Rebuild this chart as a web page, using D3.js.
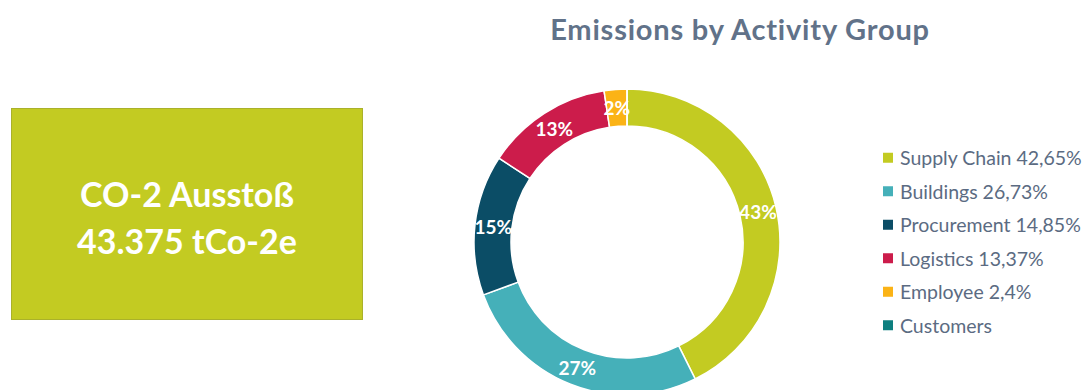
<!DOCTYPE html>
<html>
<head>
<meta charset="utf-8">
<script src="https://cdn.jsdelivr.net/npm/d3@7"></script>
<style>
	body { margin: 0; background: #ffffff; }
	svg { display: block; font-family: Lato, "Open Sans", sans-serif; }
</style>
</head>
<body>
<div id="viz"></div>
<script>
// data
var categories = ["Supply Chain", "Buildings", "Procurement", "Logistics", "Employee", "Customers"];
var shares = [42.65, 26.73, 14.85, 13.37, 2.4, 0];
var legendLabels = ["Supply Chain 42,65%", "Buildings 26,73%", "Procurement 14,85%", "Logistics 13,37%", "Employee 2,4%", "Customers"];
var colors = ["#c3cb22", "#45b0b9", "#0b4d66", "#cc1c4b", "#fbb316", "#0d7f7f"];
var boxLines = ["CO-2 Ausstoß", "43.375 tCo-2e"];
var title = "Emissions by Activity Group";

var WIDTH = 1089;
var HEIGHT = 390;
var CX = 627;
var CY = 242;
var OUTER_R = 153;
var INNER_R = 116;

var svg = d3.select("#viz").append("svg")
	.attr("width", WIDTH)
	.attr("height", HEIGHT);

// left box
var box = svg.append("g");
box.append("rect")
	.attr("x", 11.5)
	.attr("y", 108.5)
	.attr("width", 351)
	.attr("height", 211)
	.attr("fill", "#c3cb22")
	.attr("stroke", "#aab12a")
	.attr("stroke-width", 1);

box.selectAll("text")
	.data(boxLines)
	.enter().append("text")
	.attr("x", 187)
	.attr("y", function(d, i) { return 193 + i * 47; })
	.attr("text-anchor", "middle")
	.attr("dominant-baseline", "central")
	.attr("font-size", 34)
	.attr("font-weight", "bold")
	.attr("fill", "#ffffff")
	.text(function(d) { return d; });

// title
svg.append("text")
	.attr("x", 740)
	.attr("y", 40)
	.attr("text-anchor", "middle")
	.attr("font-size", 29)
	.attr("letter-spacing", 0.8)
	.attr("font-weight", "bold")
	.attr("fill", "#617289")
	.text(title);

// donut
var pie = d3.pie().sort(null).value(function(d) { return d; });
var arc = d3.arc().innerRadius(INNER_R).outerRadius(OUTER_R);
var arcs = pie(shares);

var g = svg.append("g").attr("transform", "translate(" + CX + "," + CY + ")");

g.selectAll("path")
	.data(arcs)
	.enter().append("path")
	.attr("d", arc)
	.attr("fill", function(d, i) { return colors[i]; })
	.attr("stroke", "#ffffff")
	.attr("stroke-width", 1.5);

g.selectAll("text")
	.data(arcs.filter(function(d) { return d.value > 0; }))
	.enter().append("text")
	.attr("transform", function(d) { return "translate(" + arc.centroid(d) + ")"; })
	.attr("text-anchor", "middle")
	.attr("dominant-baseline", "central")
	.attr("font-size", 19)
	.attr("font-weight", "bold")
	.attr("fill", "#ffffff")
	.text(function(d) { return Math.round(d.value) + "%"; });

// legend
var legendY = d3.scaleBand()
	.domain(categories)
	.range([141, 342])
	.padding(0);

var legend = svg.append("g");
var rows = legend.selectAll("g")
	.data(categories)
	.enter().append("g")
	.attr("transform", function(d) { return "translate(883," + (legendY(d) + legendY.bandwidth() / 2) + ")"; });

rows.append("rect")
	.attr("x", 0)
	.attr("y", -5)
	.attr("width", 10)
	.attr("height", 10)
	.attr("fill", function(d, i) { return colors[i]; });

rows.append("text")
	.attr("x", 17)
	.attr("y", 0)
	.attr("dominant-baseline", "central")
	.attr("font-size", 19.5)
	.attr("fill", "#5b6b82")
	.text(function(d, i) { return legendLabels[i]; });
</script>
</body>
</html>
